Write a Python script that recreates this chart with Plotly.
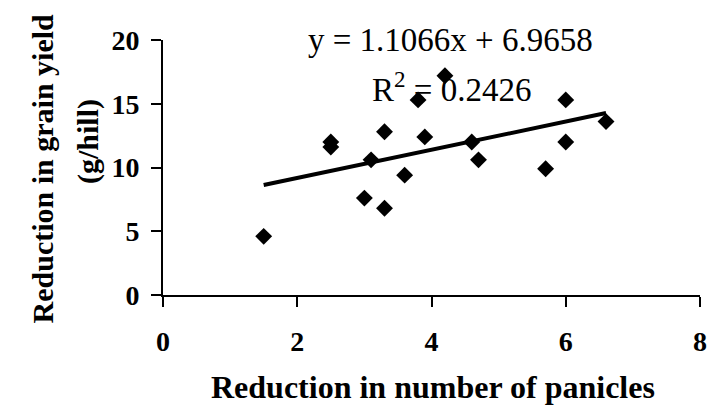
import plotly.graph_objects as go

# Data
panicle_reduction = [1.5, 2.5, 2.5, 3.1, 3.3, 3.0, 3.3, 3.6, 3.8, 3.9, 4.2, 4.6, 4.7, 5.7, 6.0, 6.0, 6.6]
yield_reduction = [4.6, 12.0, 11.6, 10.6, 12.8, 7.6, 6.8, 9.4, 15.3, 12.4, 17.2, 12.0, 10.6, 9.9, 15.3, 12.0, 13.6]
slope = 1.1066
intercept = 6.9658
r_squared = 0.2426
x_ticks = [0, 2, 4, 6, 8]
y_ticks = [0, 5, 10, 15, 20]

FONT = "Liberation Serif, Times New Roman, serif"

x_line = [min(panicle_reduction), max(panicle_reduction)]
y_line = [slope * v + intercept for v in x_line]

fig = go.Figure()
fig.add_trace(go.Scatter(
    x=x_line, y=y_line, mode="lines",
    line=dict(color="black", width=4), showlegend=False, hoverinfo="skip"))
fig.add_trace(go.Scatter(
    x=panicle_reduction, y=yield_reduction, mode="markers",
    marker=dict(symbol="diamond", size=13, color="black"),
    showlegend=False))

axis_common = dict(
    showgrid=False, zeroline=False, showline=True, linecolor="black", linewidth=2,
    ticks="outside", ticklen=10, tickwidth=2, tickcolor="black",
    tickfont=dict(family=FONT, size=28, color="black", weight="bold"),
    ticklabeloverflow="allow",
)
fig.update_xaxes(range=[0, 8], tickvals=x_ticks, ticktext=[str(t) for t in x_ticks],
                 ticklabelstandoff=10, **axis_common)
fig.update_yaxes(range=[0, 20], tickvals=y_ticks, ticktext=[str(t) for t in y_ticks],
                 ticklabelstandoff=6, **axis_common)

eq_text = f"y = {slope:.4f}x + {intercept:.4f}"
r2_text = f"R<sup>2</sup> = {r_squared:.4f}"
fig.add_annotation(x=4.28, y=20.0, xref="x", yref="y", text=eq_text, showarrow=False,
                   font=dict(family=FONT, size=33, color="black"))
fig.add_annotation(x=4.30, y=16.35, xref="x", yref="y", text=r2_text, showarrow=False,
                   font=dict(family=FONT, size=33, color="black"))

title_font = dict(family=FONT, size=30, color="black", weight="bold")
fig.add_annotation(x=0.502, y=-0.36, xref="paper", yref="paper", yanchor="middle",
                   text="Reduction in number of panicles", showarrow=False,
                   font=dict(family=FONT, size=32, color="black", weight="bold"))
fig.add_annotation(x=-0.259, y=0.498, xref="paper", yref="paper", textangle=-90,
                   text="Reduction in grain yield", showarrow=False, font=title_font)
fig.add_annotation(x=-0.175, y=0.6, xref="paper", yref="paper", textangle=-90,
                   text="(g/hill)", showarrow=False, font=title_font)

fig.update_layout(
    width=713, height=405,
    margin=dict(l=163, r=6, t=40, b=110),
    paper_bgcolor="white", plot_bgcolor="white",
)
fig.write_html("out.html", config={"displayModeBar": False},
               post_script="document.body.style.margin='0';")
